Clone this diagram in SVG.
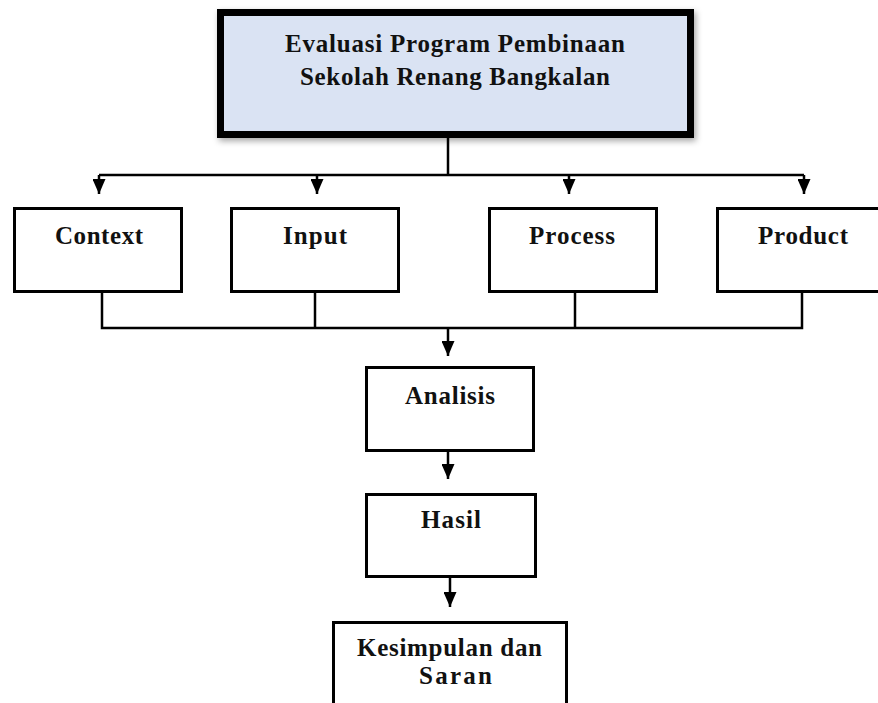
<svg xmlns="http://www.w3.org/2000/svg" width="878" height="703" viewBox="0 0 878 703">
<style>
.box{fill:#fff;stroke:#000;stroke-width:3}
.top{fill:#dae3f3;stroke:#000;stroke-width:7}
.t{font-family:"Liberation Serif","Times New Roman",serif;font-weight:bold;font-size:25px;fill:#111;text-anchor:start}
.ln{fill:none;stroke:#000;stroke-width:2.5}
</style>
<defs>
<filter id="sh" x="-10%" y="-10%" width="120%" height="130%">
<feDropShadow dx="2" dy="3" stdDeviation="3" flood-color="#000" flood-opacity="0.35"/>
</filter>
<marker id="ah" markerWidth="15" markerHeight="13" refX="15" refY="6.5" orient="auto" markerUnits="userSpaceOnUse" viewBox="0 0 15 13">
<path d="M0,0 L15,6.5 L0,13 Z" fill="#000"/>
</marker>
</defs>
<g id="connectors">
<path class="ln" d="M448,138 V175"/>
<path class="ln" d="M99,175 H804"/>
<path class="ln" d="M99,175 V194" marker-end="url(#ah)"/>
<path class="ln" d="M317,175 V194" marker-end="url(#ah)"/>
<path class="ln" d="M569,175 V194" marker-end="url(#ah)"/>
<path class="ln" d="M804,175 V194" marker-end="url(#ah)"/>
<path class="ln" d="M102,292 V328 H802 V292"/>
<path class="ln" d="M315,292 V328"/>
<path class="ln" d="M575,292 V328"/>
<path class="ln" d="M448,328 V356" marker-end="url(#ah)"/>
<path class="ln" d="M448,452 V479" marker-end="url(#ah)"/>
<path class="ln" d="M450,578 V607" marker-end="url(#ah)"/>
</g>
<g id="evaluasi">
<rect class="top" x="220.5" y="12.5" width="470" height="122" filter="url(#sh)"/>
<text class="t" x="285" y="52" textLength="340" lengthAdjust="spacing">Evaluasi Program Pembinaan</text>
<text class="t" x="300" y="85" textLength="310" lengthAdjust="spacing">Sekolah Renang Bangkalan</text>
</g>
<g id="context">
<rect class="box" x="14.5" y="208.5" width="167" height="83"/>
<text class="t" x="55" y="244" textLength="88" lengthAdjust="spacing">Context</text>
</g>
<g id="input">
<rect class="box" x="231.5" y="208.5" width="167" height="83"/>
<text class="t" x="283" y="244" textLength="64" lengthAdjust="spacing">Input</text>
</g>
<g id="process">
<rect class="box" x="489.5" y="208.5" width="167" height="83"/>
<text class="t" x="529" y="244" textLength="86" lengthAdjust="spacing">Process</text>
</g>
<g id="product">
<rect class="box" x="717.5" y="208.5" width="170" height="83"/>
<text class="t" x="758" y="244" textLength="90" lengthAdjust="spacing">Product</text>
</g>
<g id="analisis">
<rect class="box" x="366.5" y="367.5" width="167" height="83"/>
<text class="t" x="405" y="404" textLength="90" lengthAdjust="spacing">Analisis</text>
</g>
<g id="hasil">
<rect class="box" x="366.5" y="494.5" width="169" height="82"/>
<text class="t" x="421" y="528" textLength="60" lengthAdjust="spacing">Hasil</text>
</g>
<g id="kesimpulan">
<rect class="box" x="333.5" y="622.5" width="233" height="100"/>
<text class="t" x="357" y="656" textLength="185" lengthAdjust="spacing">Kesimpulan dan</text>
<text class="t" x="419" y="684" textLength="73" lengthAdjust="spacing">Saran</text>
</g>
</svg>
